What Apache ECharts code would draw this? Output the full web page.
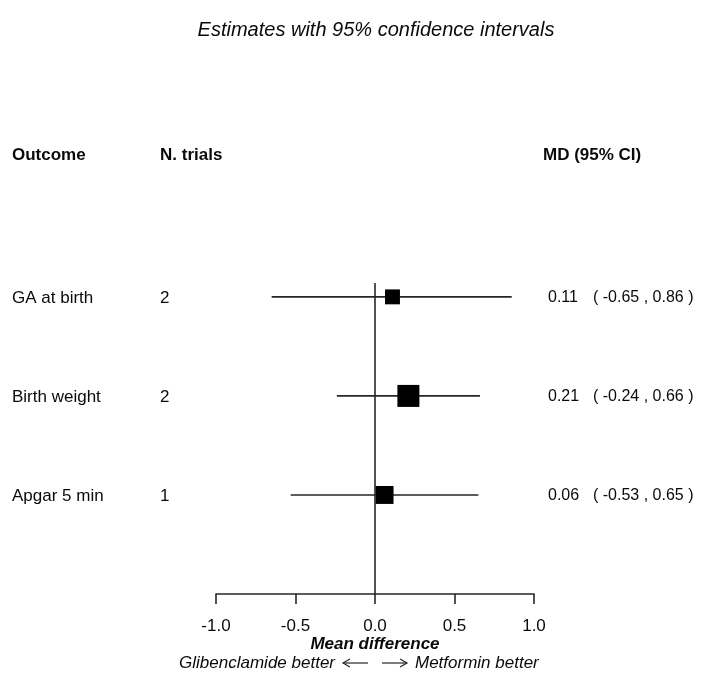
<!DOCTYPE html>
<html>
<head>
<meta charset="utf-8">
<script src="https://cdn.jsdelivr.net/npm/echarts@6/dist/echarts.min.js"></script>
<style>
  html, body { margin: 0; padding: 0; background: #fff; }
  #chart { width: 702px; height: 687px; }
</style>
</head>
<body>
<div id="chart"></div>
<script>
// Forest plot: mean difference with 95% CI per outcome
const outcomes = ['GA at birth', 'Birth weight', 'Apgar 5 min'];
const nTrials = [2, 2, 1];
const md = [0.11, 0.21, 0.06];
const ciLow = [-0.65, -0.24, -0.53];
const ciHigh = [0.86, 0.66, 0.65];
const xTicks = [-1.0, -0.5, 0.0, 0.5, 1.0];

const FONT = '"Liberation Sans", Arial, sans-serif';
const TEXT = '#0a0a0a';
const LINE = '#262626';

// Box side scales with precision (narrower CI -> larger box)
const ciWidths = ciLow.map((lo, i) => ciHigh[i] - lo);
const minWidth = Math.min(...ciWidths);
const MAX_BOX = 22;
function boxSize(i) {
  return MAX_BOX * Math.pow(minWidth / ciWidths[i], 0.75);
}

// rows from top to bottom: y position counts down
const rows = outcomes.map((o, i) => [outcomes.length - i, md[i], ciLow[i], ciHigh[i], i]);

const chart = echarts.init(document.getElementById('chart'), null, { renderer: 'canvas' });

function renderRow(params, api) {
  const yv = api.value(0);
  const est = api.value(1);
  const lo = api.value(2);
  const hi = api.value(3);
  const i = api.value(4);
  const pLo = api.coord([lo, yv]);
  const pHi = api.coord([hi, yv]);
  const pE = api.coord([est, yv]);
  const s = boxSize(i);
  const y = pE[1];
  const txt = (x, str, extra) => ({
    type: 'text',
    style: Object.assign({
      x: x, y: y + 1, text: str, fill: TEXT,
      font: '17px ' + FONT, textVerticalAlign: 'middle', textAlign: 'left'
    }, extra || {})
  });
  return {
    type: 'group',
    children: [
      { type: 'line', shape: { x1: pLo[0], y1: y, x2: pHi[0], y2: y },
        style: { stroke: LINE, lineWidth: 1.6 } },
      { type: 'rect', shape: { x: pE[0] - s / 2, y: y - s / 2, width: s, height: s },
        style: { fill: '#000' } },
      txt(12, outcomes[i]),
      txt(160, String(nTrials[i])),
      txt(548, est.toFixed(2), { font: '16px ' + FONT }),
      txt(593, '( ' + lo.toFixed(2) + ' , ' + hi.toFixed(2) + ' )', { font: '16px ' + FONT })
    ]
  };
}

const option = {
  backgroundColor: '#fff',
  animation: false,
  grid: { left: 216, right: 168, top: 283, bottom: 93, containLabel: false },
  xAxis: {
    type: 'value',
    min: xTicks[0],
    max: xTicks[xTicks.length - 1],
    interval: 0.5,
    splitLine: { show: false },
    axisLine: { show: true, onZero: false, lineStyle: { color: LINE, width: 1.6 } },
    axisTick: { show: true, length: 10, lineStyle: { color: LINE, width: 1.6 } },
    axisLabel: {
      margin: 24, color: TEXT, fontSize: 17, fontFamily: FONT,
      formatter: v => v.toFixed(1)
    },
    name: 'Mean difference',
    nameLocation: 'middle',
    nameGap: 40,
    nameTextStyle: { color: TEXT, fontSize: 17, fontStyle: 'italic', fontWeight: 'bold', fontFamily: FONT }
  },
  yAxis: {
    type: 'value', min: 0, max: 3.14, show: false
  },
  series: [
    {
      type: 'custom',
      renderItem: renderRow,
      data: rows,
      encode: { x: [1, 2, 3], y: 0 },
      clip: false,
      z: 3,
      markLine: {
        silent: true,
        symbol: 'none',
        label: { show: false },
        lineStyle: { color: LINE, width: 1.6, type: 'solid' },
        data: [{ xAxis: 0 }]
      }
    }
  ],
  graphic: [
    { type: 'text', x: 376, y: 30,
      style: { text: 'Estimates with 95% confidence intervals', fill: TEXT,
        font: 'italic 20px ' + FONT, textAlign: 'center', textVerticalAlign: 'middle' } },
    { type: 'text', x: 12, y: 155,
      style: { text: 'Outcome', fill: TEXT, font: 'bold 17px ' + FONT, textVerticalAlign: 'middle' } },
    { type: 'text', x: 160, y: 155,
      style: { text: 'N. trials', fill: TEXT, font: 'bold 17px ' + FONT, textVerticalAlign: 'middle' } },
    { type: 'text', x: 543, y: 155,
      style: { text: 'MD (95% CI)', fill: TEXT, font: 'bold 17px ' + FONT, textVerticalAlign: 'middle' } },
    { type: 'text', x: 335, y: 663,
      style: { text: 'Glibenclamide better', fill: TEXT, font: 'italic 17px ' + FONT,
        textAlign: 'right', textVerticalAlign: 'middle' } },
    { type: 'text', x: 415, y: 663,
      style: { text: 'Metformin better', fill: TEXT, font: 'italic 17px ' + FONT,
        textAlign: 'left', textVerticalAlign: 'middle' } },
    // direction arrows under the axis
    { type: 'polyline', shape: { points: [[368, 663], [343, 663]] }, style: { stroke: LINE, lineWidth: 1.2, fill: null } },
    { type: 'polyline', shape: { points: [[350, 659], [343, 663], [350, 667]] }, style: { stroke: LINE, lineWidth: 1.2, fill: null } },
    { type: 'polyline', shape: { points: [[382, 663], [407, 663]] }, style: { stroke: LINE, lineWidth: 1.2, fill: null } },
    { type: 'polyline', shape: { points: [[400, 659], [407, 663], [400, 667]] }, style: { stroke: LINE, lineWidth: 1.2, fill: null } }
  ]
};

chart.setOption(option);
</script>
</body>
</html>
